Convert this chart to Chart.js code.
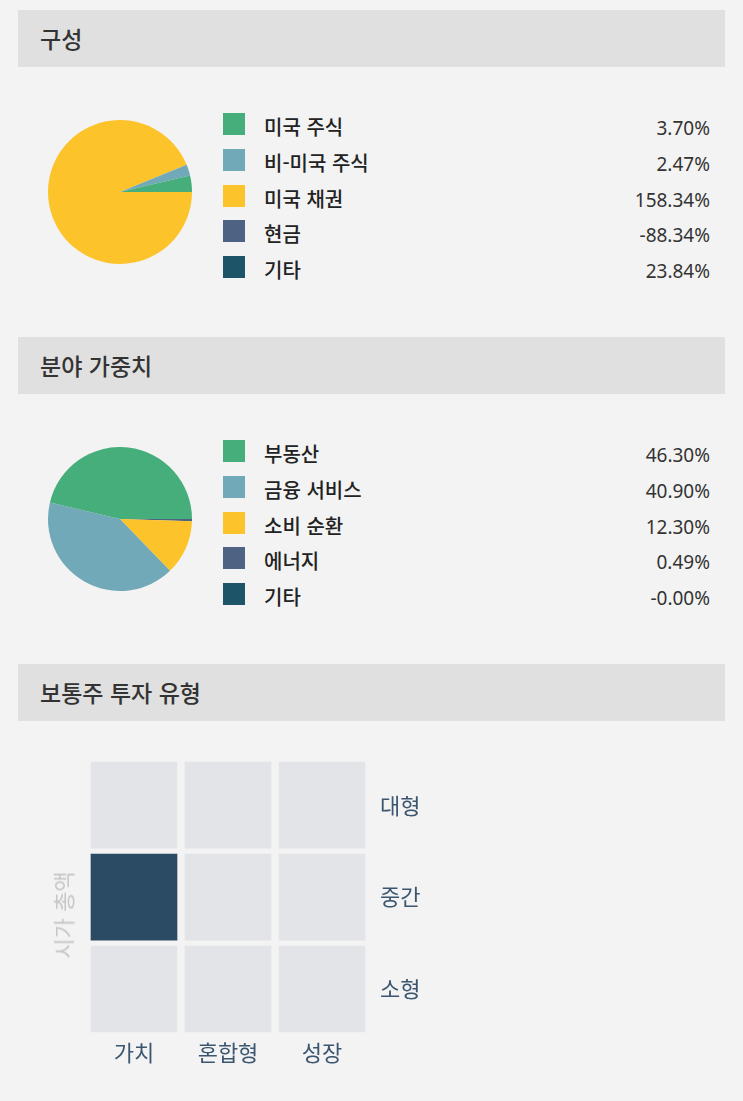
<!DOCTYPE html>
<html lang="ko">
<head>
<meta charset="utf-8">
<title>구성 / 분야 가중치 / 보통주 투자 유형</title>
<script src="https://cdn.jsdelivr.net/npm/chart.js@4.4.1/dist/chart.umd.min.js"></script>
<style>
    html, body {
        margin: 0;
        padding: 0;
        background: #f3f3f3;
        width: 743px;
        height: 1101px;
        overflow: hidden;
        font-family: "Noto Sans CJK KR", "Noto Sans", sans-serif;
    }
    .header {
        position: absolute;
        left: 18px;
        width: 707px;
        height: 57px;
        background: #e0e0e0;
        color: #333;
        font-size: 23px;
        font-weight: 500;
        line-height: 57px;
        box-sizing: border-box;
        padding-left: 22px;
    }
    .abs { position: absolute; }
    .legend-row {
        position: absolute;
        left: 223px;
        width: 487px;
        height: 22px;
    }
    .legend-row .sw {
        position: absolute;
        left: 0;
        top: 0;
        width: 22px;
        height: 22px;
    }
    .legend-row .lbl {
        position: absolute;
        left: 41px;
        top: -1px;
        font-size: 20px;
        font-weight: 500;
        color: #222;
        line-height: 30px;
        white-space: nowrap;
    }
    .legend-row .val {
        position: absolute;
        right: 0;
        top: 0;
        font-family: "Noto Sans", sans-serif;
        font-size: 19px;
        color: #333;
        line-height: 30px;
        white-space: nowrap;
    }
    #styleTitle {
        position: absolute;
        left: 62px;
        top: 915px;
        transform: translate(-50%, -50%) rotate(-90deg);
        font-size: 22px;
        color: #c6c6c6;
        white-space: nowrap;
    }
</style>
</head>
<body>

<div class="header" style="top:10px">구성</div>
<canvas id="pieComposition" class="abs" width="144" height="144" style="left:48px; top:120px"></canvas>
<div id="legendComposition"></div>

<div class="header" style="top:337px">분야 가중치</div>
<canvas id="pieSector" class="abs" width="144" height="144" style="left:48px; top:447px"></canvas>
<div id="legendSector"></div>

<div class="header" style="top:664px">보통주 투자 유형</div>
<canvas id="styleBox" class="abs" width="480" height="350" style="left:0; top:735px"></canvas>
<div id="styleTitle">시가 총액</div>

<script>
// ---- data ----
const sliceColors = ['#45ae7a', '#72a9b8', '#fcc42a', '#4e6283', '#1e5468'];

const compositionLabels = ['미국 주식', '비-미국 주식', '미국 채권', '현금', '기타'];
const compositionValues = [3.70, 2.47, 158.34, -88.34, 23.84];
// what the pie actually shows (base 100, bonds overflow and fill the rest)
const compositionPie = [3.70, 2.47, 93.83, 0, 0];

const sectorLabels = ['부동산', '금융 서비스', '소비 순환', '에너지', '기타'];
const sectorValues = [46.30, 40.90, 12.30, 0.49, -0.00];
const sectorPie = [46.30, 40.90, 12.30, 0.49, 0];

const styleCols = ['가치', '혼합형', '성장'];
const styleRows = ['대형', '중간', '소형'];
// top row first
const styleWeights = [
    [0, 0, 0],
    [1, 0, 0],
    [0, 0, 0],
];

const PAGE_BG = '#f3f3f3';
const CELL_LIGHT = '#e3e4e8';
const CELL_DARK = '#2b4a63';
const AXIS_TEXT = '#3d5670';

/**
 * Legend rows: swatch, label, right-aligned percent.
 */
function buildLegend(id, top, labels, values) {
    const box = document.getElementById(id);
    labels.forEach((label, i) => {
        const row = document.createElement('div');
        row.className = 'legend-row';
        row.style.top = (top + i * 35.75) + 'px';
        const v = values[i];
        const txt = (Object.is(v, -0) ? '-0.00' : v.toFixed(2)) + '%';
        row.innerHTML = '<div class="sw" style="background:' + sliceColors[i] + '"></div>' +
            '<div class="lbl">' + label + '</div>' +
            '<div class="val">' + txt + '</div>';
        box.appendChild(row);
    });
}

/**
 * Pie drawn counter-clockwise from 3 o'clock: reverse order, start at 90deg.
 */
function createPie(canvasId, values) {
    const ctx = document.getElementById(canvasId).getContext('2d');
    return new Chart(ctx, {
        type: 'pie',
        data: {
            labels: values.map((_, i) => i).reverse(),
            datasets: [{
                data: values.slice().reverse(),
                backgroundColor: sliceColors.slice().reverse(),
                borderWidth: 0,
                offset: 0,
                hoverOffset: 0,
            }],
        },
        options: {
            responsive: false,
            animation: false,
            events: [],
            rotation: 90,
            layout: { padding: 0 },
            plugins: {
                legend: { display: false },
                tooltip: { enabled: false },
            },
        },
    });
}

function createStyleBox() {
    const ctx = document.getElementById('styleBox').getContext('2d');
    const nRows = styleRows.length;

    // stacked from the bottom, so the last row goes first
    const datasets = styleRows.slice().reverse().map((row, k) => {
        const r = nRows - 1 - k;
        return {
            label: row,
            data: styleCols.map(() => 1),
            backgroundColor: styleWeights[r].map(w => (w > 0 ? CELL_DARK : CELL_LIGHT)),
            borderColor: PAGE_BG,
            borderWidth: { top: 3, bottom: 3, left: 4, right: 4 },
            borderSkipped: false,
            categoryPercentage: 1,
            barPercentage: 1,
        };
    });

    return new Chart(ctx, {
        type: 'bar',
        data: { labels: styleCols, datasets: datasets },
        options: {
            responsive: false,
            animation: false,
            events: [],
            layout: { padding: { left: 87, top: 17, right: 51, bottom: 10 } },
            plugins: {
                legend: { display: false },
                tooltip: { enabled: false },
            },
            scales: {
                x: {
                    stacked: true,
                    grid: { display: false, drawTicks: false },
                    border: { display: false },
                    ticks: {
                        color: AXIS_TEXT,
                        font: { family: '"Noto Sans CJK KR", sans-serif', size: 22 },
                        padding: 4,
                    },
                    afterFit: (s) => { s.height = 40; },
                },
                y: {
                    type: 'linear',
                    position: 'right',
                    stacked: true,
                    min: 0,
                    max: nRows,
                    grid: { display: false, drawTicks: false },
                    border: { display: false },
                    afterBuildTicks: (s) => {
                        s.ticks = styleRows.map((_, i) => ({ value: i + 0.5 }));
                    },
                    ticks: {
                        autoSkip: false,
                        color: AXIS_TEXT,
                        font: { family: '"Noto Sans CJK KR", sans-serif', size: 22 },
                        padding: 11,
                        callback: (v) => styleRows[nRows - 1 - Math.floor(v)],
                    },
                    afterFit: (s) => { s.width = 60; },
                },
            },
        },
    });
}

buildLegend('legendComposition', 113, compositionLabels, compositionValues);
buildLegend('legendSector', 440, sectorLabels, sectorValues);
createPie('pieComposition', compositionPie);
createPie('pieSector', sectorPie);
createStyleBox();
</script>
</body>
</html>
